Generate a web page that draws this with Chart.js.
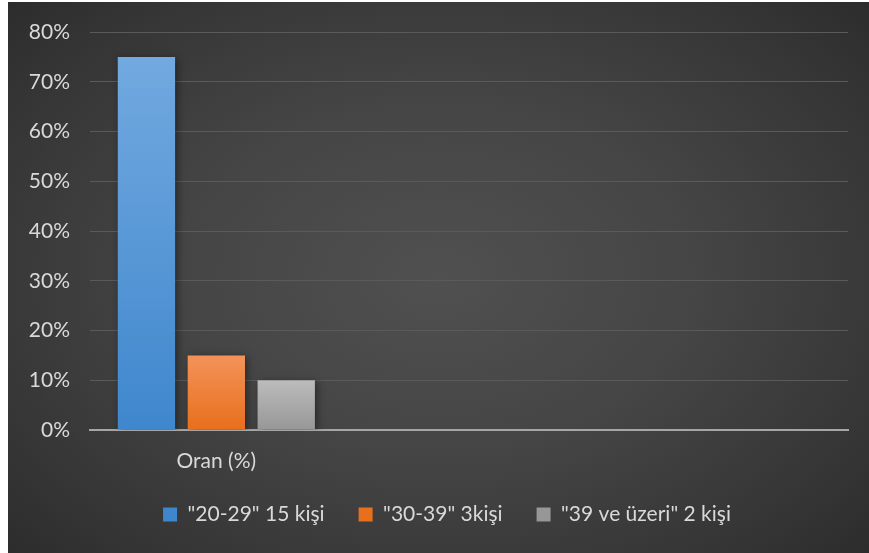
<!DOCTYPE html>
<html>
<head>
<meta charset="utf-8">
<script src="https://cdn.jsdelivr.net/npm/chart.js@4"></script>
<style>
    html, body { margin: 0; padding: 0; background: #ffffff; }
    #wrap {
        position: absolute; left: 8px; top: 2px; width: 861px; height: 551px;
        background: radial-gradient(ellipse 75% 80% at 50% 50%, #505050 0%, #454545 40%, #353535 75%, #282828 100%);
    }
</style>
</head>
<body>
<div id="wrap"><canvas id="chart" width="861" height="551"></canvas></div>
<script>
// categories (only the first one is labelled in the original)
const categories = ['Oran (%)', '', ''];
const seriesNames = ['"20-29" 15 kişi', '"30-39" 3kişi', '"39 ve üzeri" 2 kişi'];
const seriesValues = [
    [75, null, null],
    [15, null, null],
    [10, null, null]
];
const yTicks = [0, 10, 20, 30, 40, 50, 60, 70, 80];

// top / bottom colours of each bar gradient
const barColors = [
    ['#72a9e0', '#3f87cd'],
    ['#f3935a', '#e86f1c'],
    ['#bcbcbc', '#979797']
];
const fontFamily = 'Lato, "Open Sans", sans-serif';
const textColor = '#d9d9d9';

function barGradient(i) {
    return function(ctx) {
        const chart = ctx.chart;
        const area = chart.chartArea;
        if (!area) return barColors[i][1];
        const y = chart.scales.y;
        const top = y.getPixelForValue(seriesValues[i][0]);
        const g = chart.ctx.createLinearGradient(0, top, 0, area.bottom);
        g.addColorStop(0, barColors[i][0]);
        g.addColorStop(1, barColors[i][1]);
        return g;
    };
}

// soft shadow behind the bars
const barShadow = {
    id: 'barShadow',
    beforeDatasetsDraw(chart) {
        chart.ctx.save();
        chart.ctx.shadowColor = 'rgba(0, 0, 0, 0.45)';
        chart.ctx.shadowBlur = 8;
        chart.ctx.shadowOffsetX = 2;
        chart.ctx.shadowOffsetY = 2;
    },
    afterDatasetsDraw(chart) {
        chart.ctx.restore();
    }
};

// the legend in the original sits a bit right of centre and higher up
const legendShift = {
    id: 'legendShift',
    afterLayout(chart) {
        const lg = chart.legend;
        if (!lg) return;
        lg.left += 19;
        lg.right += 19;
        lg.top -= 5;
        lg.bottom -= 5;
    }
};

const ctx = document.getElementById('chart').getContext('2d');
new Chart(ctx, {
    type: 'bar',
    data: {
        labels: categories,
        datasets: seriesNames.map((name, i) => ({
            label: name,
            data: seriesValues[i],
            backgroundColor: barGradient(i),
            borderWidth: 0,
            categoryPercentage: 0.83,
            barPercentage: 0.82
        }))
    },
    options: {
        responsive: false,
        animation: false,
        layout: { padding: { top: 30, right: 21, bottom: 18, left: 0 } },
        plugins: {
            tooltip: { enabled: false },
            legend: {
                position: 'bottom',
                maxHeight: 60,
                labels: {
                    color: textColor,
                    font: { family: fontFamily, size: 21 },
                    boxWidth: 14,
                    boxHeight: 14,
                    padding: 34,
                    generateLabels(chart) {
                        return seriesNames.map((name, i) => ({
                            text: name,
                            fillStyle: barColors[i][1],
                            strokeStyle: barColors[i][1],
                            lineWidth: 0,
                            fontColor: textColor,
                            datasetIndex: i
                        }));
                    }
                }
            }
        },
        scales: {
            x: {
                grid: { display: false, drawTicks: false },
                border: { color: '#a6a6a6', width: 2 },
                afterFit(scale) { scale.height = 45; },
                ticks: {
                    color: textColor,
                    font: { family: fontFamily, size: 21 },
                    padding: 19
                }
            },
            y: {
                min: 0,
                max: 80,
                afterBuildTicks(scale) {
                    scale.ticks = yTicks.map(v => ({ value: v }));
                },
                afterFit(scale) {
                    scale.width = 82;
                    scale.paddingTop = 0;
                },
                grid: { color: '#5a5a5a', lineWidth: 1, drawTicks: false },
                border: { display: false },
                ticks: {
                    color: textColor,
                    font: { family: fontFamily, size: 21 },
                    padding: 20,
                    callback: v => v + '%'
                }
            }
        }
    },
    plugins: [barShadow, legendShift]
});
</script>
</body>
</html>
